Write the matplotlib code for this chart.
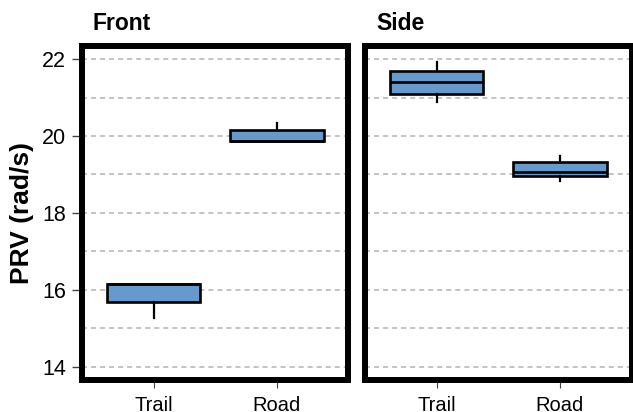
import numpy as np
import matplotlib.pyplot as plt

plt.rcParams['font.family'] = ['Liberation Sans', 'DejaVu Sans']
plt.rcParams['lines.scale_dashes'] = False

panels = ['Front', 'Side']
groups = ['Trail', 'Road']

# five-number summaries per panel: whisker low, q1, median, q3, whisker high
front_trail = [15.27, 15.68, 16.14, 16.14, 16.14]
front_road = [19.87, 19.87, 19.87, 20.15, 20.34]
side_trail = [20.89, 21.10, 21.40, 21.69, 21.93]
side_road = [18.83, 18.96, 19.07, 19.31, 19.47]

summaries = {'Front': [front_trail, front_road],
             'Side': [side_trail, side_road]}

y_ticks = [14, 16, 18, 20, 22]
y_minor = [15, 17, 19, 21]

box_color = '#6699cc'
grid_color = '#b3b3b3'

W, H = 633, 412
fig = plt.figure(figsize=(W / 100, H / 100), dpi=100)

lefts = [82, 365]
pw, ptop, pbot = 266.5, 46, 380

for i, name in enumerate(panels):
    ax = fig.add_axes([lefts[i] / W, (H - pbot) / H, pw / W, (pbot - ptop) / H])
    stats = []
    for lab, s in zip(groups, summaries[name]):
        stats.append(dict(label=lab, whislo=s[0], q1=s[1], med=s[2],
                          q3=s[3], whishi=s[4]))
    ax.bxp(stats, positions=[1, 2], widths=0.76, patch_artist=True,
           showfliers=False, showcaps=False,
           boxprops=dict(facecolor=box_color, edgecolor='black', linewidth=1.9),
           medianprops=dict(color='black', linewidth=1.9),
           whiskerprops=dict(color='black', linewidth=1.6),
           zorder=3)

    ax.set_xlim(0.42, 2.58)
    ax.set_ylim(13.65, 22.34)
    ax.set_xticks([1, 2])
    ax.set_xticklabels(groups, fontsize=14.5)
    ax.set_yticks(y_ticks)
    ax.set_yticks(y_minor, minor=True)
    ax.yaxis.grid(True, which='both', color=grid_color, linewidth=1.1,
                  linestyle=(0, (3.6, 2.9)), zorder=0)
    ax.set_axisbelow(True)

    ax.tick_params(axis='x', length=6, width=0.8, color='#444444', pad=5.5)
    ax.tick_params(axis='y', which='major', length=7.5, width=1.0,
                   color='#444444', pad=4, labelsize=15.5)
    ax.tick_params(axis='y', which='minor', length=0)
    if i > 0:
        ax.tick_params(axis='y', which='major', length=0, labelleft=False)
    else:
        ax.set_ylabel('PRV (rad/s)', fontsize=19, fontweight='bold', labelpad=6)

    for sp in ax.spines.values():
        sp.set_linewidth(4.3)
        sp.set_color('black')

    # facet strip title, left-aligned just inside the panel edge
    ax.text(11 / pw, 1 + (ptop - 30) / (pbot - ptop), name,
            transform=ax.transAxes, fontsize=16.5, fontweight='bold',
            va='baseline', ha='left')

fig.savefig('out.png', dpi=100)
